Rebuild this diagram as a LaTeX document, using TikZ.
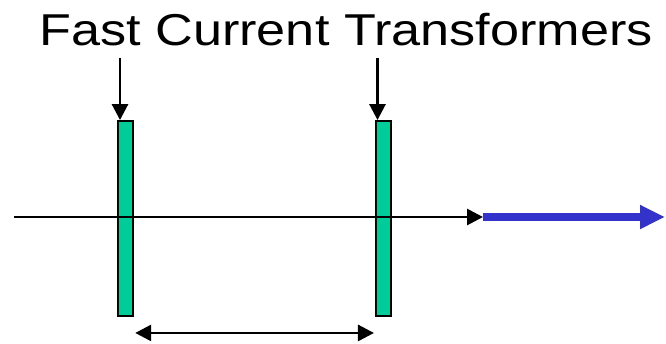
\documentclass[tikz,border=0pt]{standalone}
\usepackage{fontspec}
\setmainfont{Liberation Sans}
\usetikzlibrary{arrows.meta,calc}
\definecolor{fctGreen}{HTML}{00CC99}
\definecolor{fctBlue}{HTML}{3333CC}
\tikzset{
  fct bar/.style={draw=black, fill=fctGreen, line width=1.1pt, rectangle, minimum width=3.1mm, minimum height=39mm, inner sep=0pt},
  fct line/.style={draw=black, line width=1.6pt},
  fct tip/.style={-{Triangle[length=3.2mm, width=3.2mm]}},
  fct beam/.style={draw=fctBlue, line width=4.5pt, -{Triangle[length=5mm, width=4.5mm]}},
  fct title/.style={font=\fontsize{25.4}{30}\selectfont, anchor=base, inner sep=0pt, xscale=1.17},
}

\begin{document}
\begin{tikzpicture}[x=0.02cm, y=-0.02cm]
  \useasboundingbox (0,0) rectangle (666,343);

  % Title
  \node[fct title] (title) at (346,45) {Fast Current Transformers};

  % The two transformers
  \node[fct bar] (ctA) at (125.5,218.5) {};
  \node[fct bar] (ctB) at (383.7,218.5) {};

  % Beam line and direction
  \coordinate (beamstart) at (14,217);
  \coordinate (beamend) at (483,217);
  \coordinate (beamtip) at (665,217);
  \draw[fct line, fct tip] (beamstart) -- (beamend);
  \draw[fct beam] (beamend) -- (beamtip);

  % Pointers from the title
  \coordinate (ptrA) at (120,58);
  \coordinate (ptrB) at (377.5,58);
  \draw[fct line, fct tip] (ptrA) -- (ptrA |- ctA.north);
  \draw[fct line, fct tip] (ptrB) -- (ptrB |- ctB.north);

  % Distance between them
  \coordinate (gapA) at ($(ctA.south east)+(1,16)$);
  \coordinate (gapB) at ($(ctB.south west)+(-1,16)$);
  \draw[fct line, {Triangle[length=3.2mm, width=3.2mm]}-{Triangle[length=3.2mm, width=3.2mm]}] (gapA) -- (gapB);
\end{tikzpicture}
\end{document}
